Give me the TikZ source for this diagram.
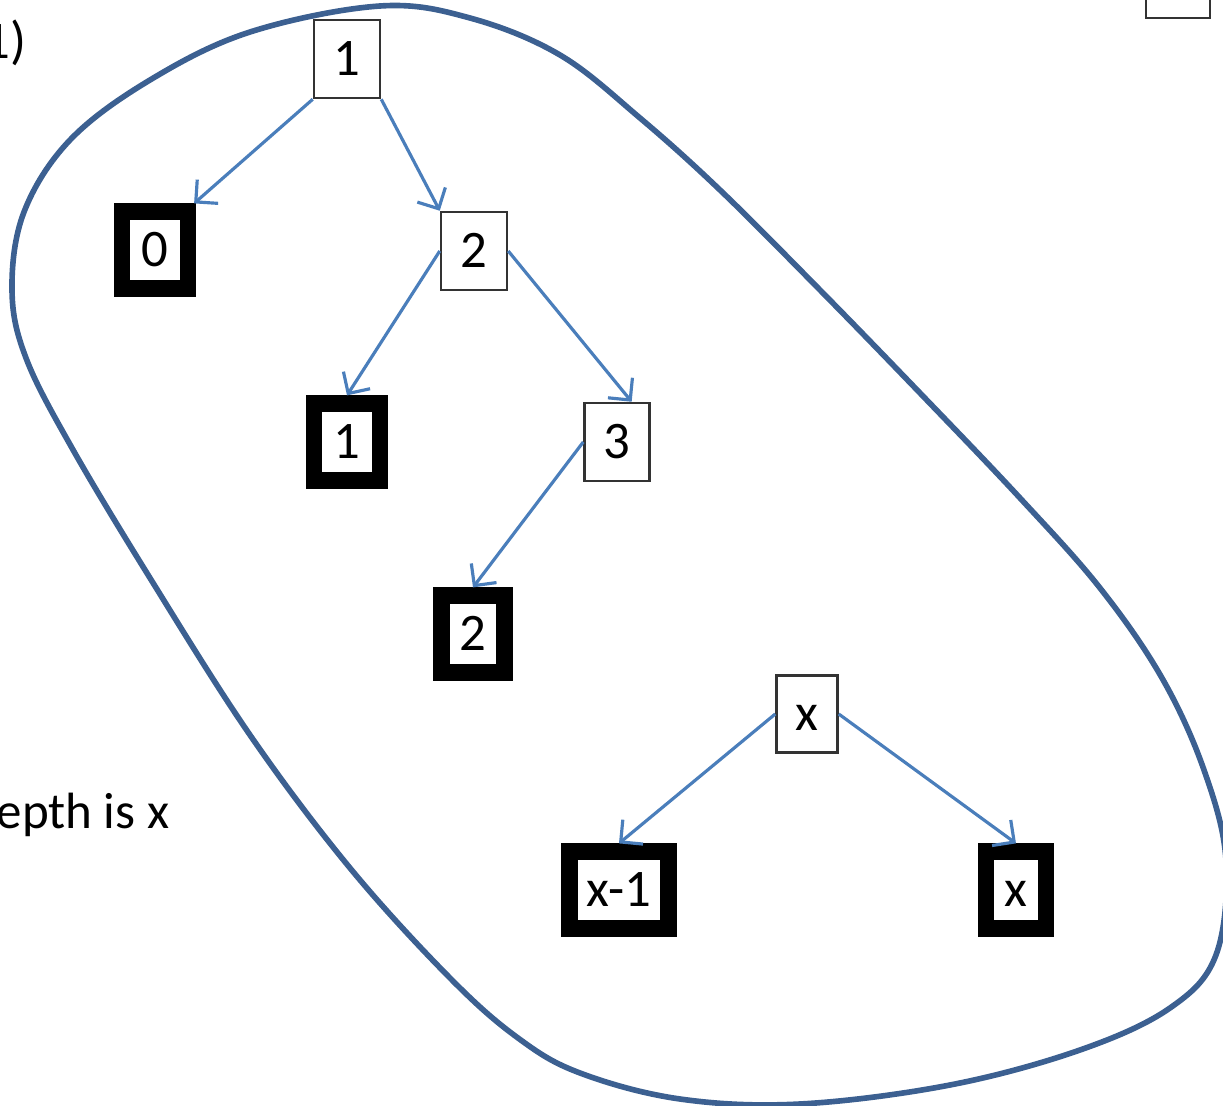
\documentclass[tikz,border=0pt]{standalone}
\usepackage{fontspec}
\setmainfont{Carlito}
\usetikzlibrary{arrows.meta}
\usetikzlibrary{positioning}
\definecolor{arrowblue}{RGB}{74,126,187}
\definecolor{blobblue}{RGB}{60,96,145}
\tikzset{labelfont/.style={font=\fontsize{15}{17}\selectfont}}
\tikzset{treebox/.style={draw=black!80,line width=0.7pt,fill=white,inner sep=0pt,minimum width=0.66cm,minimum height=0.78cm,labelfont,text height=9.4pt,text depth=0pt}}
\tikzset{leafbox/.style={draw=black,line width=4.6pt,fill=white,inner sep=0pt,minimum width=0.66cm,minimum height=0.77cm,labelfont,text height=9.4pt,text depth=0pt}}
\tikzset{edgearrow/.style={draw=arrowblue,line width=0.9pt,-{Straight Barb[length=4.5pt,width=9pt]}}}
\begin{document}
\begin{tikzpicture}[x=0.01cm,y=-0.01cm]
		\clip (0,0) rectangle (1223,1106);
		\useasboundingbox (0,0) rectangle (1223,1106);
		% outline round the tree
		\draw[blobblue,line width=1.6pt] plot[smooth cycle,tension=0.6] coordinates {(380,6) (470,18) (560,55) (640,118) (720,190) (820,290) (920,393) (1020,498) (1100,588) (1162,678) (1204,770) (1226,860) (1216,955) (1170,1008) (1080,1050) (950,1085) (800,1104) (680,1099) (580,1073) (518,1038) (450,978) (350,868) (250,735) (150,578) (72,448) (26,358) (12,290) (24,212) (70,140) (150,80) (250,32)};
		% inner nodes
		\node[treebox] (n1) at (347,59) {1};
		\node[treebox] (n2) at (474,251) {2};
		\node[treebox,minimum width=0.65cm] (n3) at (617,442) {3};
		\node[treebox,minimum width=0.61cm,minimum height=0.77cm] (nx) at (807,714) {x};
		% leaves
		\node[leafbox] (l0) at (155,250) {0};
		\node[leafbox] (l1) at (347,442) {1};
		\node[leafbox,minimum width=0.63cm] (l2) at (473,634) {2};
		\node[leafbox,minimum width=0.99cm] (lxm) at (619,890) {x-1};
		\node[leafbox,minimum width=0.60cm] (lx) at (1016,890) {x};
		% edges
		\draw[edgearrow] (n1.south west) -- (l0.50);
		\draw[edgearrow] (n1.south east) -- (n2.north west);
		\draw[edgearrow] (n2.west) -- (l1.north);
		\draw[edgearrow] (n2.east) -- (n3.70);
		\draw[edgearrow] (n3.west) -- (l2.north);
		\draw[edgearrow] (nx.west) -- (lxm.north);
		\draw[edgearrow] (nx.east) -- (lx.north);
		% cut-off parts at the borders
		\node[treebox,minimum width=0.64cm,minimum height=0.76cm] (corner) at (1178,-20) {};
		\node[anchor=base east,inner sep=0pt,labelfont] (topnote) at (27,58) {(1)};
		\node[anchor=base east,inner sep=0pt,font=\fontsize{14.5}{17}\selectfont] (depth) at (170,828) {depth is x};
	\end{tikzpicture}
\end{document}
